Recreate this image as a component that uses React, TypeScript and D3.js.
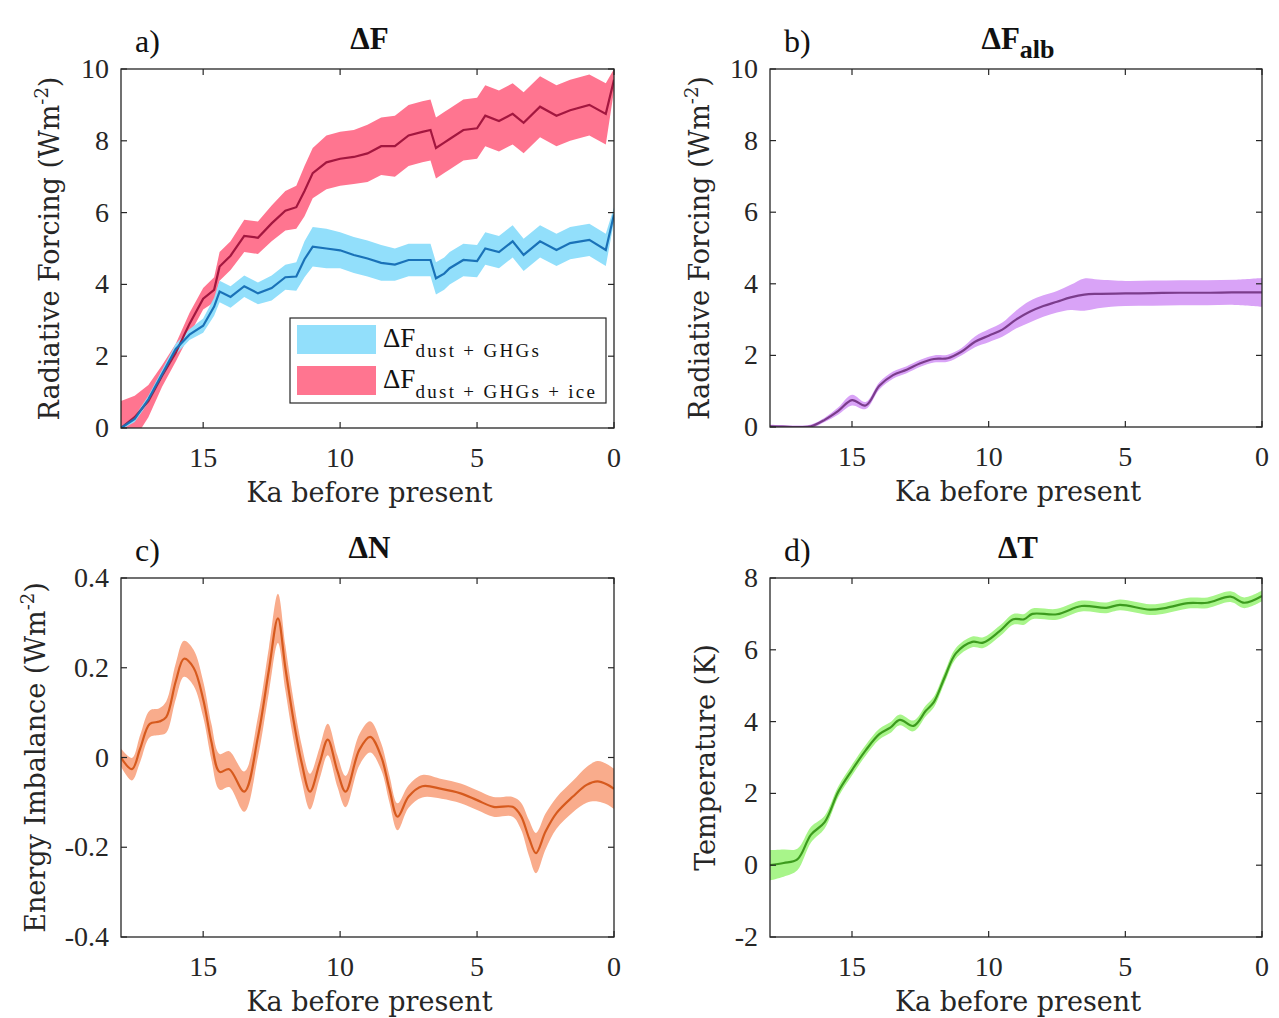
import React from "react";
import * as d3 from "d3";

const FONT = "'Liberation Serif', 'DejaVu Serif', serif";
const LABEL_FONT = "'DejaVu Serif', 'Liberation Serif', serif";
const AXIS = "#262626";

const xTicks = [15, 10, 5, 0];

// a) ΔF  (Ka BP, Wm-2)
const timeA = [18, 17.5, 17, 16.5, 16, 15.5, 15, 14.6, 14.4, 14, 13.5, 13, 12.5, 12, 11.6, 11.3, 11, 10.5, 10, 9.5, 9, 8.5, 8, 7.5, 7, 6.7, 6.5, 6.2, 6, 5.5, 5, 4.7, 4.2, 3.7, 3.3, 2.7, 2.1, 1.6, 0.9, 0.3, 0];
const iceMean = [0, 0.3, 0.75, 1.45, 2.1, 2.9, 3.6, 3.85, 4.5, 4.8, 5.35, 5.3, 5.7, 6.05, 6.15, 6.6, 7.1, 7.4, 7.5, 7.55, 7.65, 7.85, 7.85, 8.15, 8.25, 8.3, 7.8, 7.95, 8.05, 8.3, 8.35, 8.7, 8.55, 8.75, 8.5, 8.95, 8.7, 8.85, 9.0, 8.75, 9.7];
const iceSpread = [0.75, 0.6, 0.45, 0.3, 0.25, 0.3, 0.3, 0.35, 0.4, 0.4, 0.45, 0.45, 0.5, 0.55, 0.6, 0.7, 0.7, 0.75, 0.75, 0.75, 0.8, 0.8, 0.85, 0.85, 0.85, 0.85, 0.85, 0.85, 0.85, 0.85, 0.85, 0.85, 0.85, 0.85, 0.85, 0.85, 0.85, 0.85, 0.85, 0.85, 0.3];
const ghgMean = [0, 0.25, 0.8, 1.5, 2.2, 2.6, 2.85, 3.38, 3.8, 3.65, 3.95, 3.75, 3.9, 4.2, 4.22, 4.7, 5.05, 5.0, 4.95, 4.82, 4.72, 4.6, 4.55, 4.68, 4.68, 4.68, 4.17, 4.3, 4.45, 4.68, 4.65, 5.0, 4.9, 5.2, 4.82, 5.2, 4.96, 5.15, 5.24, 4.96, 5.95];
const ghgSpread = [0.05, 0.08, 0.1, 0.12, 0.15, 0.15, 0.2, 0.25, 0.3, 0.3, 0.3, 0.3, 0.35, 0.35, 0.4, 0.5, 0.55, 0.55, 0.5, 0.5, 0.5, 0.5, 0.45, 0.45, 0.45, 0.45, 0.45, 0.45, 0.45, 0.45, 0.45, 0.45, 0.45, 0.45, 0.45, 0.45, 0.45, 0.45, 0.45, 0.45, 0.2];

// b) ΔF_alb
const timeB = [18, 17.5, 17, 16.5, 16, 15.5, 15, 14.5, 14, 13.5, 13, 12.5, 12, 11.5, 11, 10.5, 10, 9.5, 9, 8.5, 8, 7.5, 7, 6.5, 6, 5, 4, 3, 2, 1, 0];
const albMean = [0.02, 0.01, 0, 0.02, 0.2, 0.45, 0.75, 0.6, 1.15, 1.45, 1.6, 1.78, 1.9, 1.92, 2.1, 2.38, 2.55, 2.72, 3.0, 3.22, 3.38, 3.5, 3.62, 3.7, 3.72, 3.73, 3.74, 3.75, 3.75, 3.76, 3.76];
const albSpread = [0.04, 0.04, 0.04, 0.05, 0.06, 0.1, 0.15, 0.1, 0.1, 0.1, 0.1, 0.1, 0.1, 0.1, 0.1, 0.15, 0.18, 0.2, 0.25, 0.3, 0.3, 0.3, 0.35, 0.45, 0.4, 0.35, 0.35, 0.35, 0.35, 0.35, 0.4];

// c) ΔN
const timeC = [18, 17.6, 17.3, 16.95, 16.6, 16.35, 16, 15.7, 15.35, 15, 14.7, 14.4, 14.05, 13.5, 13, 12.6, 12.27, 12, 11.72, 11.4, 11.1, 10.75, 10.45, 10.1, 9.8, 9.3, 8.9, 8.5, 8.2, 7.9, 7.5, 7, 6.3, 5.6, 5, 4.4, 3.7, 3.4, 3.1, 2.85, 2.5, 2.1, 1.5, 1, 0.6, 0.25, 0];
const nMean = [0, -0.026, 0.02, 0.075, 0.08, 0.09, 0.17, 0.22, 0.2, 0.13, 0.035, -0.032, -0.026, -0.076, 0.046, 0.195, 0.31, 0.2, 0.09, -0.013, -0.076, -0.013, 0.04, -0.03, -0.076, 0.017, 0.046, 0.002, -0.07, -0.132, -0.087, -0.064, -0.07, -0.08, -0.095, -0.11, -0.11, -0.13, -0.18, -0.213, -0.165, -0.124, -0.087, -0.061, -0.053, -0.06, -0.07];
const nSpread = [0.02, 0.025, 0.03, 0.03, 0.03, 0.035, 0.04, 0.04, 0.04, 0.04, 0.04, 0.04, 0.04, 0.045, 0.045, 0.05, 0.055, 0.05, 0.045, 0.04, 0.04, 0.035, 0.035, 0.035, 0.035, 0.035, 0.035, 0.03, 0.03, 0.03, 0.025, 0.025, 0.022, 0.022, 0.022, 0.022, 0.022, 0.03, 0.04, 0.045, 0.04, 0.035, 0.035, 0.04, 0.045, 0.045, 0.045];

// d) ΔT  (K)
const timeD = [18, 17.5, 17, 16.5, 16, 15.5, 15, 14.5, 14, 13.6, 13.25, 12.75, 12.3, 12, 11.6, 11.2, 10.6, 10.2, 9.6, 9.1, 8.7, 8.4, 7.5, 6.6, 5.7, 5.2, 4.1, 3.5, 2.7, 2, 1.15, 0.65, 0];
const tMean = [0, 0.06, 0.16, 0.85, 1.2, 2.05, 2.65, 3.2, 3.65, 3.83, 4.05, 3.88, 4.3, 4.55, 5.25, 5.9, 6.22, 6.2, 6.52, 6.85, 6.85, 7.0, 6.99, 7.22, 7.17, 7.25, 7.12, 7.17, 7.3, 7.31, 7.48, 7.31, 7.5];
const tSpread = [0.42, 0.38, 0.3, 0.22, 0.18, 0.15, 0.15, 0.15, 0.15, 0.15, 0.15, 0.15, 0.15, 0.15, 0.15, 0.15, 0.15, 0.15, 0.15, 0.15, 0.15, 0.15, 0.15, 0.15, 0.15, 0.15, 0.15, 0.15, 0.15, 0.15, 0.15, 0.15, 0.15];

type Series = { t: number[]; mean: number[]; spread: number[]; band: string; line: string };

type PanelProps = {
  id: string;
  left: number;
  top: number;
  width: number;
  height: number;
  yDomain: [number, number];
  yTicks: number[];
  yLabel: React.ReactNode;
  yLabelOffset: number;
  series: Series[];
  curve: d3.CurveFactory;
  letter: string;
  title: React.ReactNode;
  children?: React.ReactNode;
};

const Panel = ({ id, left, top, width, height, yDomain, yTicks, yLabel, yLabelOffset, series, curve, letter, title, children }: PanelProps) => {
  const x = d3.scaleLinear().domain([18, 0]).range([left, left + width]);
  const y = d3.scaleLinear().domain(yDomain).range([top + height, top]);
  const bottom = top + height;
  const right = left + width;
  const tick = 6;

  return (
    <g>
      <defs>
        <clipPath id={`clip-${id}`}>
          <rect x={left} y={top} width={width} height={height} />
        </clipPath>
      </defs>
      <g clipPath={`url(#clip-${id})`}>
        {series.map((s, i) => {
          const idx = d3.range(s.t.length);
          const area = d3.area<number>()
            .x(j => x(s.t[j]))
            .y0(j => y(s.mean[j] - s.spread[j]))
            .y1(j => y(s.mean[j] + s.spread[j]))
            .curve(curve);
          return <path key={"b" + i} d={area(idx) || ""} fill={s.band} stroke="none" />;
        })}
        {series.map((s, i) => {
          const idx = d3.range(s.t.length);
          const line = d3.line<number>()
            .x(j => x(s.t[j]))
            .y(j => y(s.mean[j]))
            .curve(curve);
          return <path key={"l" + i} d={line(idx) || ""} fill="none" stroke={s.line} strokeWidth={2.2} />;
        })}
      </g>
      <rect x={left} y={top} width={width} height={height} fill="none" stroke={AXIS} strokeWidth={1.3} />
      {xTicks.map(t => (
        <g key={"x" + t}>
          <line x1={x(t)} x2={x(t)} y1={bottom} y2={bottom - tick} stroke={AXIS} strokeWidth={1.2} />
          <line x1={x(t)} x2={x(t)} y1={top} y2={top + tick} stroke={AXIS} strokeWidth={1.2} />
          <text x={x(t)} y={bottom + 39} textAnchor="middle" fontSize={28} fill={AXIS}>{t}</text>
        </g>
      ))}
      {yTicks.map(v => (
        <g key={"y" + v}>
          <line x1={left} x2={left + tick} y1={y(v)} y2={y(v)} stroke={AXIS} strokeWidth={1.2} />
          <line x1={right} x2={right - tick} y1={y(v)} y2={y(v)} stroke={AXIS} strokeWidth={1.2} />
          <text x={left - 12} y={y(v) + 9} textAnchor="end" fontSize={28} fill={AXIS}>{v}</text>
        </g>
      ))}
      <text x={(left + right) / 2 + 2} y={bottom + 74} textAnchor="middle" fontSize={27} fontFamily={LABEL_FONT} fill={AXIS}>Ka before present</text>
      <text transform={`translate(${left - yLabelOffset},${(top + bottom) / 2}) rotate(-90)`} textAnchor="middle" fontSize={27} fontFamily={LABEL_FONT} fill={AXIS}>{yLabel}</text>
      <text x={left + 14} y={top - 17} fontSize={32} fill="#111">{letter}</text>
      <text x={(left + right) / 2 + 2} y={top - 20} textAnchor="middle" fontSize={31} fontWeight="bold" fill="#111">{title}</text>
      {children}
    </g>
  );
};

const unitLabel = (name: string) => (
  <>
    {name} (Wm<tspan dy={-11} fontSize={18}>-2</tspan><tspan dy={11}>)</tspan>
  </>
);

export default function App() {
  const legendX = 290, legendY = 318;
  return (
    <svg width={1279} height={1018} style={{ position: "absolute", left: 0, top: 0, background: "#fff" }} fontFamily={FONT}>
      <Panel
        id="a" left={121} top={69} width={493} height={359}
        yDomain={[0, 10]} yTicks={[0, 2, 4, 6, 8, 10]}
        yLabel={unitLabel("Radiative Forcing")} yLabelOffset={62}
        curve={d3.curveLinear}
        series={[
          { t: timeA, mean: iceMean, spread: iceSpread, band: "#FF7590", line: "#A3173F" },
          { t: timeA, mean: ghgMean, spread: ghgSpread, band: "#92DFFB", line: "#1A72B8" },
        ]}
        letter="a)" title="ΔF"
      >
        <rect x={legendX} y={legendY} width={316} height={85} fill="#fff" stroke={AXIS} strokeWidth={1.2} />
        <rect x={legendX + 7} y={legendY + 7} width={79} height={29} fill="#92DFFB" />
        <rect x={legendX + 7} y={legendY + 48} width={79} height={29} fill="#FF7590" />
        <text x={legendX + 93} y={legendY + 29} fontSize={27} fill="#111">
          ΔF<tspan dy={10} fontSize={19} letterSpacing={2.3}>dust + GHGs</tspan>
        </text>
        <text x={legendX + 93} y={legendY + 70} fontSize={27} fill="#111">
          ΔF<tspan dy={10} fontSize={19} letterSpacing={2.3}>dust + GHGs + ice</tspan>
        </text>
      </Panel>
      <Panel
        id="b" left={770} top={69} width={492} height={358}
        yDomain={[0, 10]} yTicks={[0, 2, 4, 6, 8, 10]}
        yLabel={unitLabel("Radiative Forcing")} yLabelOffset={61}
        curve={d3.curveCatmullRom}
        series={[{ t: timeB, mean: albMean, spread: albSpread, band: "#D9A3F7", line: "#7B3C8C" }]}
        letter="b)"
        title={<>ΔF<tspan dy={9} fontSize={26}>alb</tspan></>}
      />
      <Panel
        id="c" left={121} top={578} width={493} height={359}
        yDomain={[-0.4, 0.4]} yTicks={[-0.4, -0.2, 0, 0.2, 0.4]}
        yLabel={unitLabel("Energy Imbalance")}
        yLabelOffset={76}
        curve={d3.curveCatmullRom}
        series={[{ t: timeC, mean: nMean, spread: nSpread, band: "#F9AC8C", line: "#D65A1E" }]}
        letter="c)" title="ΔN"
      />
      <Panel
        id="d" left={770} top={578} width={492} height={359}
        yDomain={[-2, 8]} yTicks={[-2, 0, 2, 4, 6, 8]}
        yLabel="Temperature (K)" yLabelOffset={55}
        curve={d3.curveCatmullRom}
        series={[{ t: timeD, mean: tMean, spread: tSpread, band: "#A8F58A", line: "#3C9B1E" }]}
        letter="d)" title="ΔT"
      />
    </svg>
  );
}
